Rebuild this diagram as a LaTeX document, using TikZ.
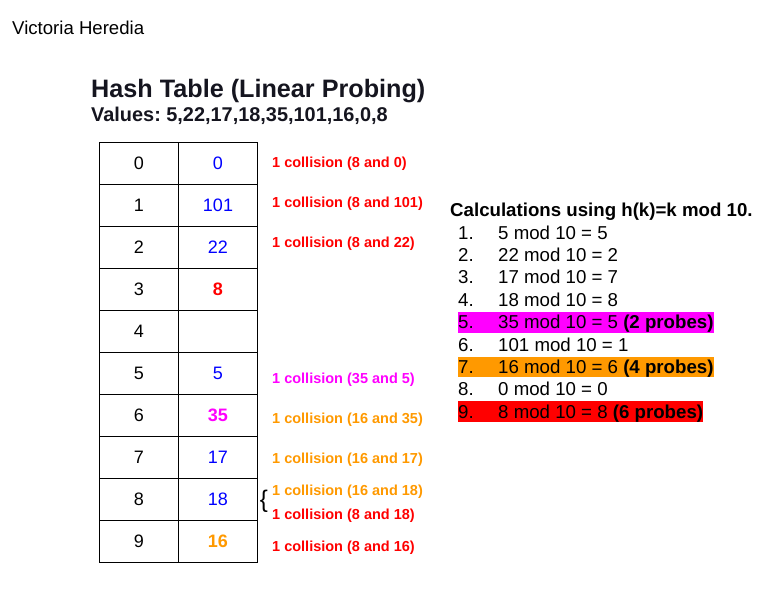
\documentclass[tikz,border=0pt]{standalone}
\usepackage{fontspec}
\setmainfont{Liberation Sans}
\usepackage{xcolor}
\usepackage{tikz}
\usetikzlibrary{positioning}
\definecolor{hitred}{HTML}{FF0000}
\definecolor{hitpink}{HTML}{FF00FF}
\definecolor{hitorange}{HTML}{FF9900}
\definecolor{keyblue}{HTML}{0000FF}
\definecolor{inkblack}{HTML}{000000}
\definecolor{titleink}{HTML}{15151F}
\frenchspacing

\begin{document}
\begin{tikzpicture}[x=1pt, y=-1pt,
  cell/.style={rectangle, draw=inkblack, line width=1pt, minimum width=79pt,
               minimum height=42pt, inner sep=0pt, font=\fontsize{18}{20}\selectfont},
  plainkey/.style={text=keyblue},
  redkey/.style={text=hitred, font=\fontsize{18}{20}\selectfont\bfseries},
  pinkkey/.style={text=hitpink, font=\fontsize{18}{20}\selectfont\bfseries},
  orangekey/.style={text=hitorange, font=\fontsize{18}{20}\selectfont\bfseries},
  note/.style={anchor=west, inner sep=0pt, font=\fontsize{14.5}{17}\selectfont\bfseries},
  calcline/.style={anchor=base west, inner sep=0pt, text height=16.9pt, text depth=4pt,
                   font=\fontsize{18.67}{22}\selectfont},
]
  \useasboundingbox (0,0) rectangle (766,592);

  \node[anchor=base west, inner sep=0pt, font=\fontsize{18.6}{22}\selectfont] (author)
    at (12,34.5) {Victoria Heredia};
  \node[anchor=base west, inner sep=0pt, text=titleink,
        font=\fontsize{25.2}{28}\selectfont\bfseries] (title)
    at (91,97) {Hash Table (Linear Probing)};
  \node[anchor=base west, inner sep=0pt, text=titleink,
        font=\fontsize{19.9}{22}\selectfont\bfseries] (values)
    at (91,121.5) {Values: 5,22,17,18,35,101,16,0,8};

  \foreach \k/\val/\sty in {0/0/plainkey, 1/101/plainkey, 2/22/plainkey, 3/8/redkey,
                            4//plainkey, 5/5/plainkey, 6/35/pinkkey, 7/17/plainkey,
                            8/18/plainkey, 9/16/orangekey} {
    \node[cell] (i\k) at (139,163+42*\k) {\k};
    \node[cell, \sty] (v\k) at (218,163+42*\k) {\val};
  }

  \node[note, text=hitred] (n0) at (272,164) {1 collision (8 and 0)};
  \node[note, text=hitred] (n1) at (272,204) {1 collision (8 and 101)};
  \node[note, text=hitred] (n2) at (272,244) {1 collision (8 and 22)};
  \node[note, text=hitpink] (n5) at (272,380) {1 collision (35 and 5)};
  \node[note, text=hitorange] (n6) at (272,420) {1 collision (16 and 35)};
  \node[note, text=hitorange] (n7) at (272,460) {1 collision (16 and 17)};
  \node[note, text=hitorange] (n8a) at (272,492) {1 collision (16 and 18)};
  \node[note, text=hitred] (n8b) at (272,516) {1 collision (8 and 18)};
  \node[note, text=hitred] (n9) at (272,548) {1 collision (8 and 16)};
  \node[inner sep=0pt, font=\fontsize{24}{24}\selectfont] (brace) at (264,501) {\{};

  \node[anchor=base west, inner sep=0pt, font=\fontsize{18.67}{22}\selectfont\bfseries] (calchead)
    at (450,216.7) {Calculations using h(k)=k mod 10.};
  \node[calcline] (c1) at (458,239) {\makebox[40pt][l]{1.}5 mod 10 = 5};
  \node[calcline] (c2) at (458,261.4) {\makebox[40pt][l]{2.}22 mod 10 = 2};
  \node[calcline] (c3) at (458,283.8) {\makebox[40pt][l]{3.}17 mod 10 = 7};
  \node[calcline] (c4) at (458,306.2) {\makebox[40pt][l]{4.}18 mod 10 = 8};
  \node[calcline, fill=hitpink] (c5) at (458,328.6)
    {\makebox[40pt][l]{5.}35 mod 10 = 5 \textbf{(2 probes)}};
  \node[calcline] (c6) at (458,351) {\makebox[40pt][l]{6.}101 mod 10 = 1};
  \node[calcline, fill=hitorange] (c7) at (458,373.4)
    {\makebox[40pt][l]{7.}16 mod 10 = 6 \textbf{(4 probes)}};
  \node[calcline] (c8) at (458,395.8) {\makebox[40pt][l]{8.}0 mod 10 = 0};
  \node[calcline, fill=hitred] (c9) at (458,418.2)
    {\makebox[40pt][l]{9.}8 mod 10 = 8 \textbf{(6 probes)}};
\end{tikzpicture}
\end{document}
